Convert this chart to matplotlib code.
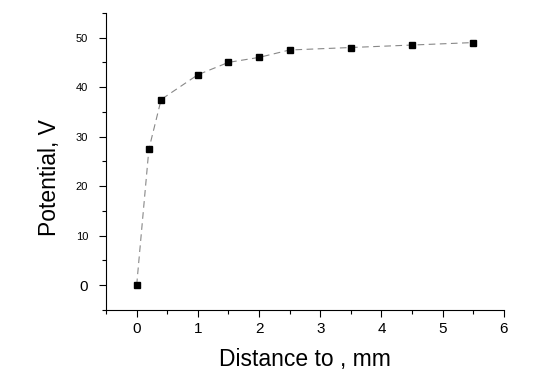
import matplotlib
matplotlib.use("Agg")
import matplotlib.pyplot as plt
from matplotlib.ticker import MultipleLocator

plt.rcParams["font.family"] = ["Liberation Sans", "DejaVu Sans"]

distance = [0, 0.2, 0.4, 1.0, 1.5, 2.0, 2.5, 3.5, 4.5, 5.5]
potential = [0, 27.5, 37.5, 42.5, 45, 46, 47.5, 48, 48.5, 49]

fig = plt.figure(figsize=(5.44, 3.78), dpi=100)
ax = fig.add_axes([0.195, 0.18, 0.731, 0.786])

ax.plot(distance, potential, color="#888888", linestyle=(0, (6, 4)), linewidth=0.8, zorder=1)
ax.plot(distance, potential, "s", color="black", markersize=4.5, zorder=2)

ax.set_xlim(-0.5, 6)
ax.set_ylim(-5, 55)
ax.spines["top"].set_visible(False)
ax.spines["right"].set_visible(False)
ax.xaxis.set_major_locator(MultipleLocator(1))
ax.xaxis.set_minor_locator(MultipleLocator(0.5))
ax.yaxis.set_major_locator(MultipleLocator(10))
ax.yaxis.set_minor_locator(MultipleLocator(5))
ax.tick_params(which="major", direction="out", length=5, width=0.8)
ax.tick_params(which="minor", direction="out", length=3, width=0.8)
ax.tick_params(axis="x", labelsize=11)
ax.tick_params(axis="y", labelsize=8, pad=8)
ax.set_xticks(range(0, 7))
for lbl in ax.get_yticklabels():
    if lbl.get_text() == "0":
        lbl.set_fontsize(11)

ax.set_xlabel("Distance to , mm", fontsize=16.5, labelpad=9)
ax.set_ylabel("Potential, V", fontsize=16.5)
ax.yaxis.set_label_coords(-0.113, 0.444)

fig.savefig("out.png", dpi=100)
